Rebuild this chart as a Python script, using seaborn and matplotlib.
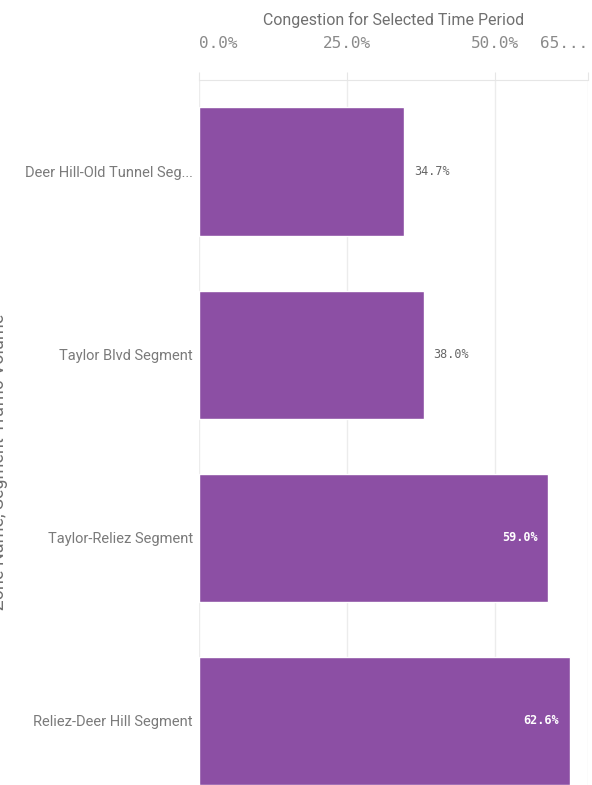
import matplotlib
matplotlib.use("Agg")
import matplotlib.pyplot as plt
import seaborn as sns
import pandas as pd

categories = ["Deer Hill-Old Tunnel Seg...", "Taylor Blvd Segment",
              "Taylor-Reliez Segment", "Reliez-Deer Hill Segment"]
values = [34.7, 38.0, 59.0, 62.6]
tick_values = [0, 25, 50, 65.7]
tick_labels = ["0.0%", "25.0%", "50.0%", "65..."]

sns.set_style("white")
plt.rcParams['font.family'] = ['Roboto', 'DejaVu Sans']

df = pd.DataFrame({"zone": categories, "congestion": values})

W, H = 592, 785
fig = plt.figure(figsize=(W / 100, H / 100), dpi=100)
ax = fig.add_axes([199 / W, 0, (588 - 199) / W, (H - 80) / H])

bar_color = "#8C4FA4"
sns.barplot(data=df, x="congestion", y="zone", orient="h", color=bar_color,
            width=0.7, saturation=1, ax=ax)

ax.set_xlim(0, tick_values[-1])
ax.set_ylim(3.35, -0.5)

ax.xaxis.tick_top()
ax.xaxis.set_label_position("top")
ax.set_xticks(tick_values)
ax.set_xticklabels(tick_labels, family="DejaVu Sans Mono", fontsize=11.5, color="#8a8a8a")
tl = ax.get_xticklabels()
tl[0].set_ha("left")
tl[-1].set_ha("right")
ax.tick_params(axis="x", length=6, color="#e6e6e6", pad=15)
ax.set_xlabel("Congestion for Selected Time Period", fontsize=11.5, color="#707070", labelpad=8)

ax.set_ylabel("")
ax.set_yticks(range(len(categories)))
ax.set_yticklabels(categories, fontsize=10.5, color="#7a7a7a")
ax.tick_params(axis="y", length=0, pad=4.5)

ax.grid(axis="x", color="#ececec", linewidth=1)
ax.set_axisbelow(True)
for s in ["left", "right", "bottom"]:
    ax.spines[s].set_visible(False)
ax.spines["top"].set_color("#e6e6e6")

for i, v in enumerate(values):
    if v > 50:
        ax.text(v - 1.8, i, f"{v:.1f}%", ha="right", va="center", color="white",
                family="DejaVu Sans Mono", fontsize=8.5, fontweight="bold")
    else:
        ax.text(v + 1.6, i, f"{v:.1f}%", ha="left", va="center", color="#666666",
                family="DejaVu Sans Mono", fontsize=8.5)

fig.text(-1 / W, 1 - 462 / H, "Zone Name, Segment Traffic Volume", rotation=90,
         ha="center", va="center", fontsize=13, color="#707070")

fig.savefig("out.png", dpi=100)
